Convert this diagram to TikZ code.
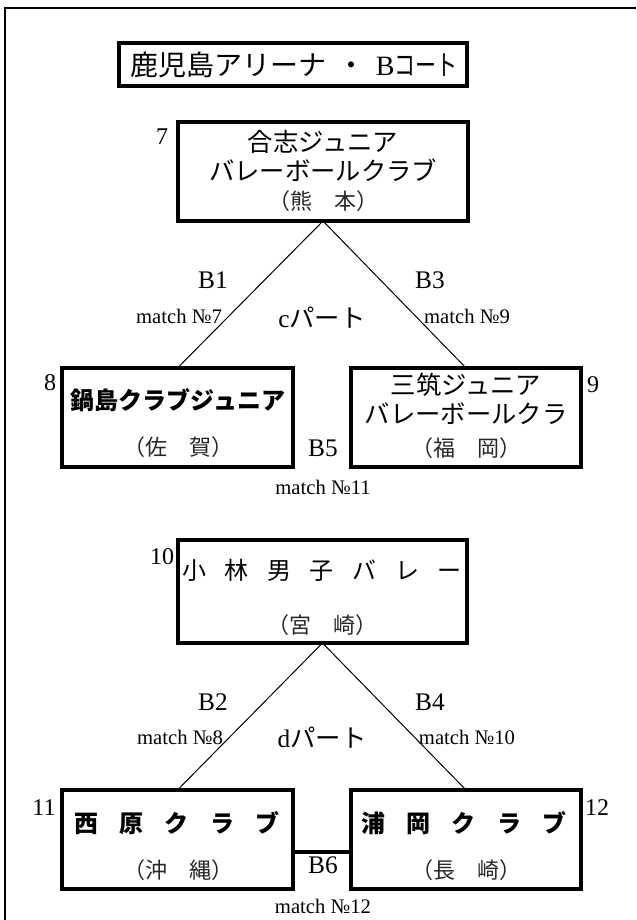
\documentclass[tikz,border=0pt]{standalone}
\usepackage{fontspec}
\usepackage{graphicx}
\setmainfont{Liberation Serif}
\newfontfamily\jp{Noto Sans CJK JP}
\tikzset{
  teambox/.style={draw, line width=2.6pt, inner sep=0pt, outer sep=0pt},
  nm/.style={inner sep=0pt, font=\jp\fontsize{19pt}{20pt}\selectfont},
  nmb/.style={inner sep=0pt, font=\jp\bfseries\fontsize{18pt}{20pt}\selectfont},
  pref/.style={inner sep=0pt, text=black!85, font=\jp\fontsize{16.5pt}{18pt}\selectfont},
  seed/.style={inner sep=0pt, font=\fontsize{18pt}{20pt}\selectfont},
  game/.style={inner sep=0pt, font=\fontsize{19pt}{20pt}\selectfont},
  matchno/.style={inner sep=0pt, font=\fontsize{15.5pt}{17pt}\selectfont},
  part/.style={inner sep=0pt, font=\fontsize{19pt}{20pt}\selectfont},
  link/.style={line width=0.75pt},
  frame/.style={line width=1.1pt}
}
\begin{document}
\begin{tikzpicture}[x=0.75pt,y=-0.75pt]
\useasboundingbox (0,0) rectangle (636,920);
% outer frame
\coordinate (fa) at (5,920);
\coordinate (fb) at (5,8);
\coordinate (fc) at (636,8);
\draw[frame] (fa) -- (fb) -- (fc);
% title
\node[teambox, minimum width=348*0.75pt, minimum height=43*0.75pt] (title) at (293,64.5) {};
\node[inner sep=0pt, font=\jp\fontsize{21pt}{22pt}\selectfont] (titletext) at (294,65)
  {鹿児島アリーナ\hspace{8pt}・\hspace{8pt}{\rmfamily B}\scalebox{0.75}[1]{コート}};
% upper group
\node[teambox, minimum width=290*0.75pt, minimum height=99*0.75pt] (b7) at (323,171.5) {};
\node[nm] (t7a) at (323,142) {合志ジュニア};
\node[nm] (t7b) at (323,170) {バレーボールクラブ};
\node[pref] (t7c) at (323,201) {（熊　本）};
\node[seed] (n7) at (162,137) {7};
\node[teambox, minimum width=231*0.75pt, minimum height=99*0.75pt] (b8) at (177.5,417.5) {};
\node[nmb] (t8a) at (178,400) {鍋島クラブジュニア};
\node[pref] (t8b) at (178,447) {（佐　賀）};
\node[seed] (n8) at (50,383) {8};
\node[teambox, minimum width=230*0.75pt, minimum height=99*0.75pt] (b9) at (466,417.5) {};
\node[nm] (t9a) at (466,385) {三筑ジュニア};
\node[nm] (t9b) at (466,414) {バレーボールクラ};
\node[pref] (t9c) at (466,448) {（福　岡）};
\node[seed] (n9) at (593,385) {9};
\draw[link] (b7.south) -- (b8.north);
\draw[link] (b7.south) -- (b9.north);
\node[game] (g1) at (213,280) {B1};
\node[game] (g3) at (430,280) {B3};
\node[matchno] (m7) at (179,316) {match №7};
\node[matchno] (m9) at (467,316) {match №9};
\node[part] (pc) at (322,318) {c{\jp パート}};
\node[game] (g5) at (323,448) {B5};
\node[matchno] (m11) at (323,487) {match №11};
% lower group
\node[teambox, minimum width=289*0.75pt, minimum height=103*0.75pt] (b10) at (322.5,591.5) {};
\node[inner sep=0pt, font=\jp\fontsize{18pt}{19pt}\selectfont] (t10a) at (322,570)
  {小\hspace{14pt}林\hspace{14pt}男\hspace{14pt}子\hspace{14pt}バ\hspace{14pt}レ\hspace{14pt}ー};
\node[pref] (t10b) at (322,625) {（宮　崎）};
\node[seed] (n10) at (162,557) {10};
\node[teambox, minimum width=231*0.75pt, minimum height=99*0.75pt] (b11) at (177.5,839.5) {};
\node[nmb] (t11a) at (177,823) {西\hspace{16pt}原\hspace{16pt}ク\hspace{16pt}ラ\hspace{16pt}ブ};
\node[pref] (t11b) at (178,870) {（沖　縄）};
\node[seed] (n11) at (44,808) {11};
\node[teambox, minimum width=230*0.75pt, minimum height=99*0.75pt] (b12) at (466,839.5) {};
\node[nmb] (t12a) at (464,823) {浦\hspace{16pt}岡\hspace{16pt}ク\hspace{16pt}ラ\hspace{16pt}ブ};
\node[pref] (t12b) at (466,870) {（長　崎）};
\node[seed] (n12) at (597,808) {12};
\draw[link] (b10.south) -- (b11.north);
\draw[link] (b10.south) -- (b12.north);
\node[game] (g2) at (213,702) {B2};
\node[game] (g4) at (430,702) {B4};
\node[matchno] (m8) at (180,737) {match №8};
\node[matchno] (m10) at (467,737) {match №10};
\node[part] (pd) at (322,738) {d{\jp パート}};
\coordinate (c6) at (322,852);
\draw[line width=2.6pt] (b11.east |- c6) -- (b12.west |- c6);
\node[game] (g6) at (323,865) {B6};
\node[matchno] (m12) at (323,906) {match №12};
\end{tikzpicture}
\end{document}
